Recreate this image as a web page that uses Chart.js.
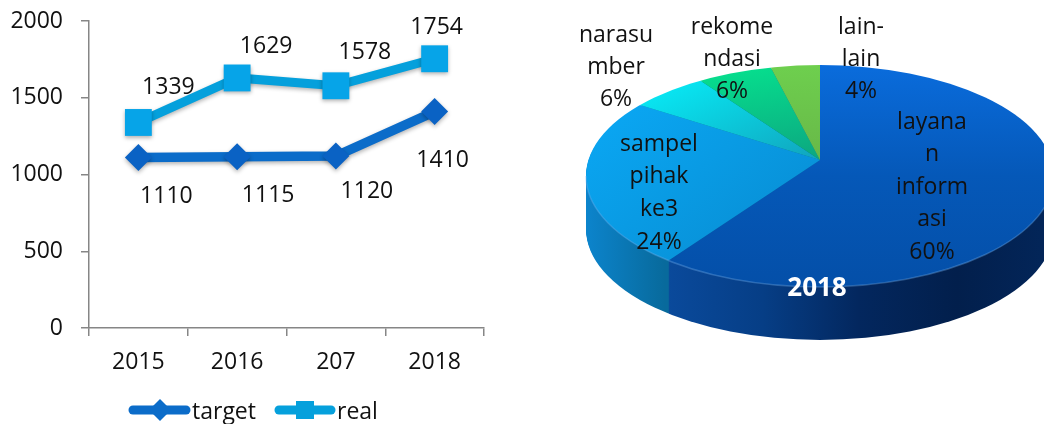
<!DOCTYPE html>
<html>
<head>
<meta charset="utf-8">
<style>
    html, body { margin: 0; padding: 0; background: #fff; overflow: hidden; }
    canvas { position: absolute; top: 0; }
    #lineChart { left: 0; }
    #pieChart { left: 560px; }
</style>
<script src="https://cdn.jsdelivr.net/npm/chart.js@4/dist/chart.umd.js"></script>
</head>
<body>
<canvas id="lineChart" width="520" height="424"></canvas>
<canvas id="pieChart" width="484" height="424"></canvas>
<script>
const years = ['2015', '2016', '207', '2018'];
const targetValues = [1110, 1115, 1120, 1410];
const realValues = [1339, 1629, 1578, 1754];
const yTicks = [0, 500, 1000, 1500, 2000];

const sliceNames = ['layanan informasi', 'sampel pihak ke3', 'narasumber', 'rekomendasi', 'lain-lain'];
const sliceValues = [60, 24, 6, 6, 4];
const sliceLines = [
    ['layana', 'n', 'inform', 'asi'],
    ['sampel', 'pihak', 'ke3'],
    ['narasu', 'mber'],
    ['rekome', 'ndasi'],
    ['lain-', 'lain']
];
const pieTitle = '2018';

const FONT = '"Open Sans", sans-serif';
const TEXT_SIZE = 23;
const TEXT_COLOR = '#111';
const TARGET_COLOR = '#0b6cc9';
const REAL_COLOR = '#05a0dc';

// label offsets from each point, the labels were moved by hand in the original
const targetLabelOffsets = [[28, 39], [31, 39], [31, 35], [8, 49]];
const realLabelOffsets = [[30, -35], [29, -31], [29, -33], [2, -31]];

const pointLabels = {
    id: 'pointLabels',
    afterDatasetsDraw(chart) {
        const ctx = chart.ctx;
        ctx.save();
        ctx.font = `${TEXT_SIZE}px ${FONT}`;
        ctx.fillStyle = TEXT_COLOR;
        ctx.textAlign = 'center';
        ctx.textBaseline = 'middle';
        [targetLabelOffsets, realLabelOffsets].forEach((offsets, i) => {
            chart.getDatasetMeta(i).data.forEach((pt, j) => {
                ctx.fillText(chart.data.datasets[i].data[j], pt.x + offsets[j][0], pt.y + offsets[j][1]);
            });
        });
        ctx.restore();
    }
};

// soft shadow under the lines and markers
const lineShadow = {
    id: 'lineShadow',
    beforeDatasetDraw(chart) {
        const ctx = chart.ctx;
        ctx.save();
        ctx.shadowColor = 'rgba(0, 0, 0, 0.3)';
        ctx.shadowBlur = 4;
        ctx.shadowOffsetY = 2;
    },
    afterDatasetDraw(chart) {
        chart.ctx.restore();
    }
};

// the built in legend can't draw a line through the marker
const lineLegend = {
    id: 'lineLegend',
    afterDraw(chart) {
        const ctx = chart.ctx;
        const y = 410;
        ctx.save();
        ctx.lineCap = 'round';
        ctx.lineWidth = 9;
        // target
        ctx.strokeStyle = TARGET_COLOR;
        ctx.beginPath(); ctx.moveTo(133, y); ctx.lineTo(186, y); ctx.stroke();
        ctx.fillStyle = TARGET_COLOR;
        ctx.beginPath();
        ctx.moveTo(160, y - 11); ctx.lineTo(171, y); ctx.lineTo(160, y + 11); ctx.lineTo(149, y);
        ctx.closePath(); ctx.fill();
        // real
        ctx.strokeStyle = REAL_COLOR;
        ctx.beginPath(); ctx.moveTo(279, y); ctx.lineTo(331, y); ctx.stroke();
        ctx.fillStyle = REAL_COLOR;
        ctx.fillRect(296, y - 9, 18, 18);

        ctx.fillStyle = TEXT_COLOR;
        ctx.font = `${TEXT_SIZE}px ${FONT}`;
        ctx.textBaseline = 'middle';
        ctx.fillText('target', 192, y + 2);
        ctx.fillText('real', 337, y + 2);
        ctx.restore();
    }
};

new Chart(document.getElementById('lineChart'), {
    type: 'line',
    data: {
        labels: years,
        datasets: [
            {
                label: 'target',
                data: targetValues,
                borderColor: TARGET_COLOR,
                backgroundColor: '#0a62c4',
                borderWidth: 9.5,
                pointStyle: 'rectRot',
                pointRadius: 13.5,
                pointBorderWidth: 0,
                tension: 0,
                clip: false
            },
            {
                label: 'real',
                data: realValues,
                borderColor: REAL_COLOR,
                backgroundColor: '#06a4e8',
                borderWidth: 9,
                pointStyle: 'rect',
                pointRadius: 19,
                pointBorderWidth: 0,
                tension: 0,
                clip: false
            }
        ]
    },
    plugins: [lineShadow, pointLabels, lineLegend],
    options: {
        responsive: false,
        animation: false,
        layout: { autoPadding: false, padding: { top: 21, right: 36, bottom: 0, left: 0 } },
        plugins: { legend: { display: false }, tooltip: { enabled: false } },
        scales: {
            x: {
                offset: true,
                afterFit: (scale) => { scale.height = 96; },
                grid: { offset: true, drawOnChartArea: false, color: '#868686', lineWidth: 1.5, tickLength: 8 },
                border: { color: '#868686', width: 1.5 },
                ticks: { color: TEXT_COLOR, font: { family: FONT, size: TEXT_SIZE }, padding: 13, maxRotation: 0 }
            },
            y: {
                min: 0,
                max: 2000,
                // tick padding would otherwise push the plot area down
                afterFit: (scale) => { scale.width = 89; scale.paddingTop = 0; scale.paddingBottom = 0; },
                afterBuildTicks: (scale) => { scale.ticks = yTicks.map((value) => ({ value })); },
                grid: { drawOnChartArea: false, color: '#868686', lineWidth: 1.5, tickLength: 8 },
                border: { color: '#868686', width: 1.5 },
                ticks: {
                    color: TEXT_COLOR,
                    font: { family: FONT, size: TEXT_SIZE },
                    padding: 18,
                    callback: (value) => String(value)
                }
            }
        }
    }
});

// pie: chart coordinates get squashed onto the tilted disc, apex sits above the disc centre
const pieCanvas = document.getElementById('pieChart');
const pieCtx = pieCanvas.getContext('2d');
const APEX = { x: 260, y: 160 };
const DISC = { x: 260, y: 176, rx: 234, ry: 111 };
const SCALE_X = 1.4;
const SCALE_Y = 0.675;
const DEPTH = 53;
const CHART_CX = 242;
const CHART_CY = 212;

const toChartX = (x) => CHART_CX + (x - APEX.x) / SCALE_X;
const toChartY = (y) => CHART_CY + (y - APEX.y) / SCALE_Y;

function stops(x0, y0, x1, y1, colors) {
    const g = pieCtx.createLinearGradient(toChartX(x0), toChartY(y0), toChartX(x1), toChartY(y1));
    colors.forEach((c, i) => g.addColorStop(i / (colors.length - 1), c));
    return g;
}

const topColors = [
    stops(260, 65, 260, 287, ['#0a6cdc', '#0558b8', '#044fa8']),
    stops(26, 130, 260, 200, ['#0aa6f2', '#0890d6']),
    stops(100, 90, 240, 160, ['#08e6f2', '#10a8c0']),
    stops(180, 65, 240, 160, ['#06e08e', '#0ca880']),
    stops(260, 65, 260, 160, ['#6ecf4e', '#68b848'])
];
const wallLayanan = stops(105, 0, 494, 0, ['#0a4a9c', '#063e86', '#03275e', '#021f4c', '#03265a']);
const wallSampel = stops(26, 0, 105, 0, ['#0c84cc', '#086a9c']);
const wallColors = [wallLayanan, wallSampel, wallSampel, wallSampel, wallSampel];

function discClip(ctx, dy) {
    ctx.beginPath();
    ctx.ellipse(DISC.x, DISC.y + dy, DISC.rx, DISC.ry, 0, 0, Math.PI * 2);
    ctx.clip();
}

function discTransform(ctx, meta, dy) {
    ctx.translate(APEX.x, APEX.y + dy);
    ctx.scale(SCALE_X, SCALE_Y);
    ctx.translate(-meta.data[0].x, -meta.data[0].y);
}

const tiltedPie = {
    id: 'tiltedPie',
    beforeDatasetsDraw(chart) {
        const ctx = chart.ctx;
        const meta = chart.getDatasetMeta(0);
        // side wall: the same arcs stepped downwards in the wall colours
        for (let d = DEPTH; d > 0; d--) {
            ctx.save();
            discClip(ctx, d);
            discTransform(ctx, meta, d);
            meta.data.forEach((arc, i) => {
                const opts = arc.options;
                arc.options = { ...opts, backgroundColor: wallColors[i] };
                arc.draw(ctx);
                arc.options = opts;
            });
            ctx.restore();
        }
        ctx.save();
        discClip(ctx, 0);
        discTransform(ctx, meta, 0);
    },
    afterDatasetsDraw(chart) {
        const ctx = chart.ctx;
        ctx.restore();
        // thin light rim on the front edge
        ctx.save();
        ctx.beginPath();
        ctx.ellipse(DISC.x, DISC.y, DISC.rx, DISC.ry, 0, 0, Math.PI);
        ctx.strokeStyle = 'rgba(120, 180, 240, 0.35)';
        ctx.lineWidth = 1.5;
        ctx.stroke();
        ctx.restore();
    }
};

// centres of the text blocks on the pie canvas
const sliceLabelSpots = [
    { x: 372, y: 122, gap: 32.5 },
    { x: 99, y: 144, gap: 32.7 },
    { x: 56, y: 35, gap: 32 },
    { x: 172, y: 27, gap: 32 },
    { x: 301, y: 27, gap: 32 }
];

const pieLabels = {
    id: 'pieLabels',
    afterDraw(chart) {
        const ctx = chart.ctx;
        ctx.save();
        ctx.font = `${TEXT_SIZE}px ${FONT}`;
        ctx.fillStyle = TEXT_COLOR;
        ctx.textAlign = 'center';
        ctx.textBaseline = 'middle';
        sliceLines.forEach((lines, i) => {
            const spot = sliceLabelSpots[i];
            [...lines, sliceValues[i] + '%'].forEach((line, k) => {
                ctx.fillText(line, spot.x, spot.y + k * spot.gap);
            });
        });
        ctx.font = `bold 26px ${FONT}`;
        ctx.fillStyle = '#fff';
        ctx.fillText(pieTitle, 257, 289);
        ctx.restore();
    }
};

new Chart(pieCanvas, {
    type: 'pie',
    data: {
        labels: sliceNames,
        datasets: [{
            data: sliceValues,
            backgroundColor: topColors,
            borderWidth: 0,
            clip: false
        }]
    },
    plugins: [tiltedPie, pieLabels],
    options: {
        responsive: false,
        animation: false,
        layout: { padding: 0 },
        plugins: { legend: { display: false }, tooltip: { enabled: false } }
    }
});
</script>
</body>
</html>
